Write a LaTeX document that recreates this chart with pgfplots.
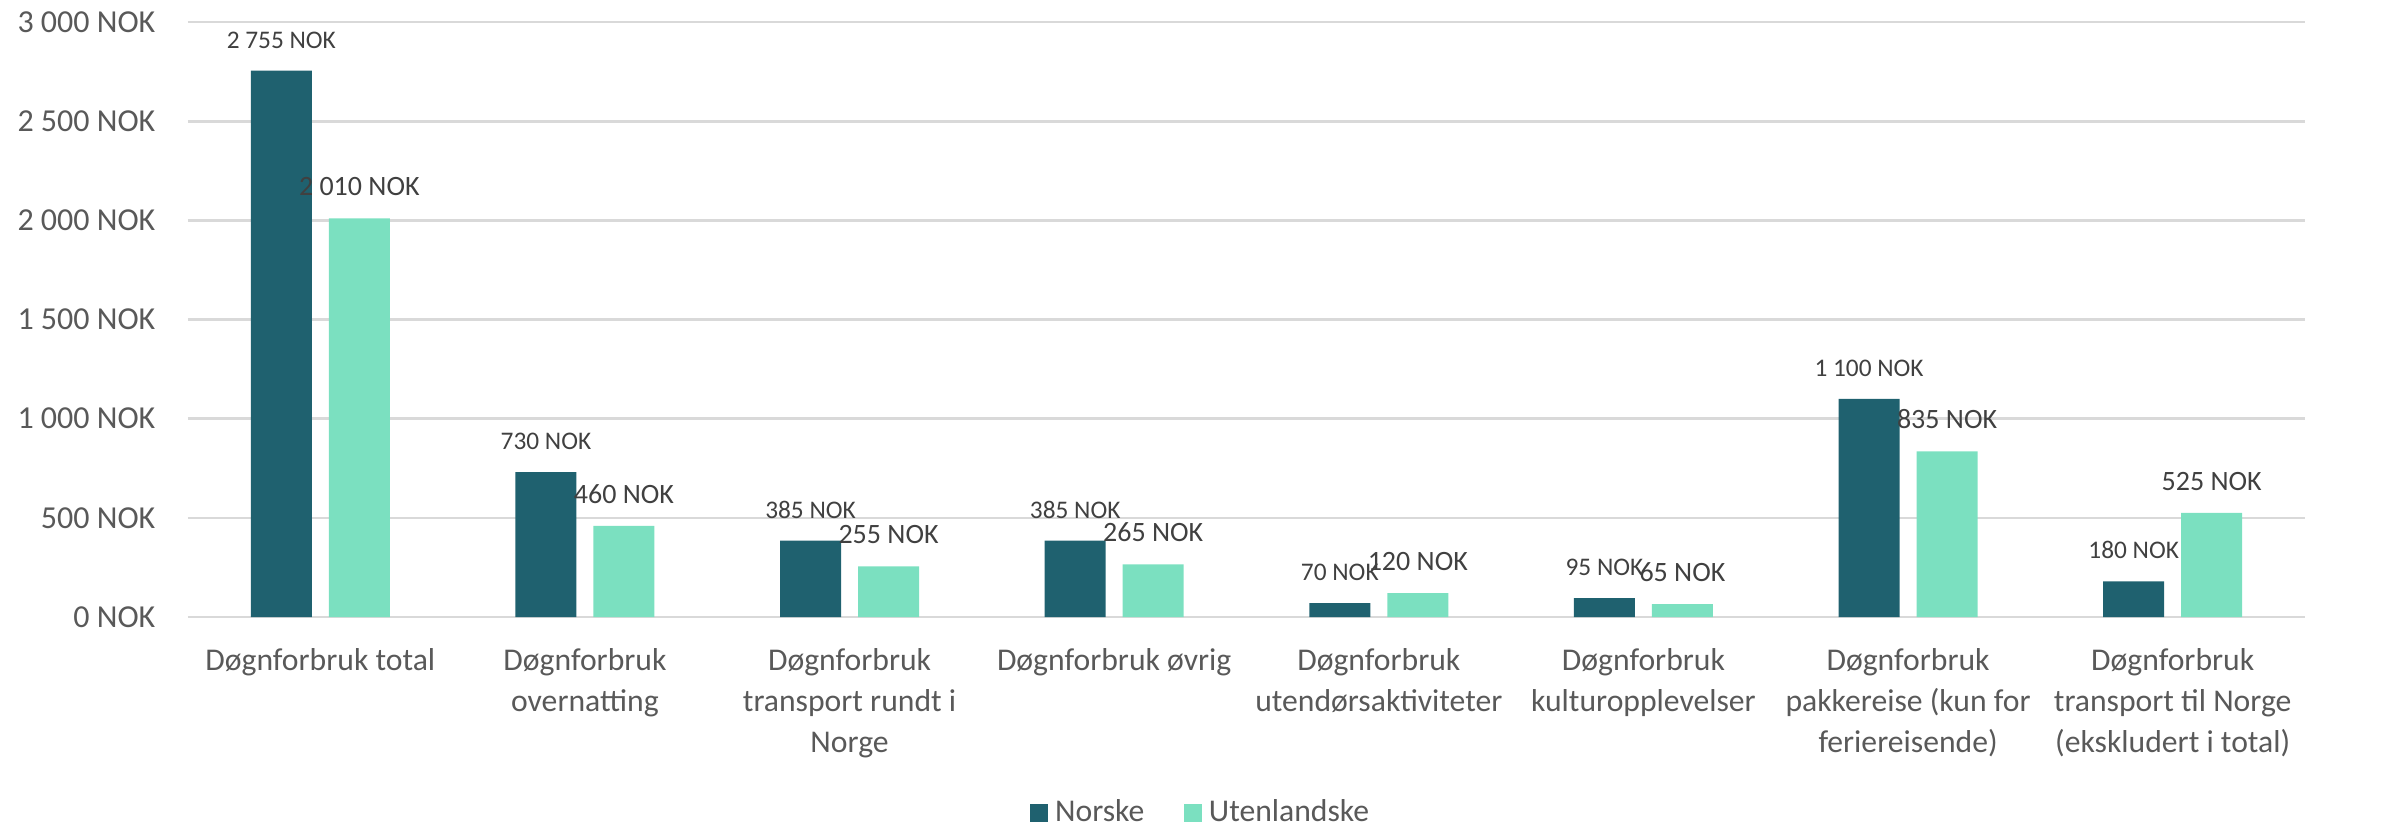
\documentclass[border=0pt]{standalone}
\usepackage{pgfplots}
\pgfplotsset{compat=1.18}
\usepackage{fontspec}
\setmainfont{Carlito}
\definecolor{norske}{HTML}{1F616F}
\definecolor{utenl}{HTML}{7BE0C0}
\definecolor{gridc}{HTML}{D9D9D9}
\definecolor{txt}{HTML}{595959}
\definecolor{lbl}{HTML}{404040}

\begin{document}
\begin{tikzpicture}
% 1 px of the reference = 0.3pt
\useasboundingbox (-56.4pt,-63.6pt) rectangle (658.8pt,185.1pt);
\begin{axis}[
    at={(0,0)}, anchor=south west,
    scale only axis, width=635.1pt, height=178.5pt,
    ybar=5.1pt, bar width=18.3pt,
    xmin=-0.5, xmax=7.5, ymin=0, ymax=3000,
    xtick={0,...,7},
    xticklabels={
        {Døgnforbruk total},
        {Døgnforbruk\\overnatting},
        {Døgnforbruk\\transport rundt i\\Norge},
        {Døgnforbruk øvrig},
        {Døgnforbruk\\utendørsaktiviteter},
        {Døgnforbruk\\kulturopplevelser},
        {Døgnforbruk\\pakkereise (kun for\\feriereisende)},
        {Døgnforbruk\\transport til Norge\\(ekskludert i total)}},
    ytick={0,500,...,3000},
    yticklabels={0~NOK, 500~NOK, 1~000~NOK, 1~500~NOK, 2~000~NOK, 2~500~NOK, 3~000~NOK},
    ymajorgrids, grid style={gridc, line width=0.8pt},
    axis line style={draw=none},
    major tick length=0pt,
    tick label style={text=txt},
    yticklabel style={anchor=east, inner sep=0pt, xshift=-9.6pt,
        font=\fontsize{9.6}{11}\selectfont},
    xticklabel style={anchor=north, align=center, inner sep=0pt, yshift=-9.3pt,
        font=\fontsize{9.5}{12.3}\selectfont},
    nodes near coords,
    point meta=explicit symbolic,
    every node near coord/.append style={anchor=base, yshift=6.75pt, inner sep=0pt, text=lbl},
    legend style={at={(0.4795,-0.329)}, anchor=center, draw=none,
        font=\fontsize{9.5}{11}\selectfont, text=txt,
        /tikz/every even column/.append style={column sep=10pt}},
    legend columns=2,
    legend image code/.code={\fill[#1] (0pt,-2.7pt) rectangle (5.4pt,2.7pt);},
]
% Norske
\addplot[fill=norske, draw=none,
    every node near coord/.append style={font=\fontsize{7.6}{9}\selectfont}]
    coordinates {
    (0,2755) [2 755 NOK]
    (1,730) [730 NOK]
    (2,385) [385 NOK]
    (3,385) [385 NOK]
    (4,70) [70 NOK]
    (5,95) [95 NOK]
    (6,1100) [1 100 NOK]
    (7,180) [180 NOK]
};
\addlegendentry{Norske}
% Utenlandske
\addplot[fill=utenl, draw=none,
    every node near coord/.append style={font=\fontsize{8.4}{10}\selectfont}]
    coordinates {
    (0,2010) [2 010 NOK]
    (1,460) [460 NOK]
    (2,255) [255 NOK]
    (3,265) [265 NOK]
    (4,120) [120 NOK]
    (5,65) [65 NOK]
    (6,835) [835 NOK]
    (7,525) [525 NOK]
};
\addlegendentry{Utenlandske}
\end{axis}
\end{tikzpicture}
\end{document}
